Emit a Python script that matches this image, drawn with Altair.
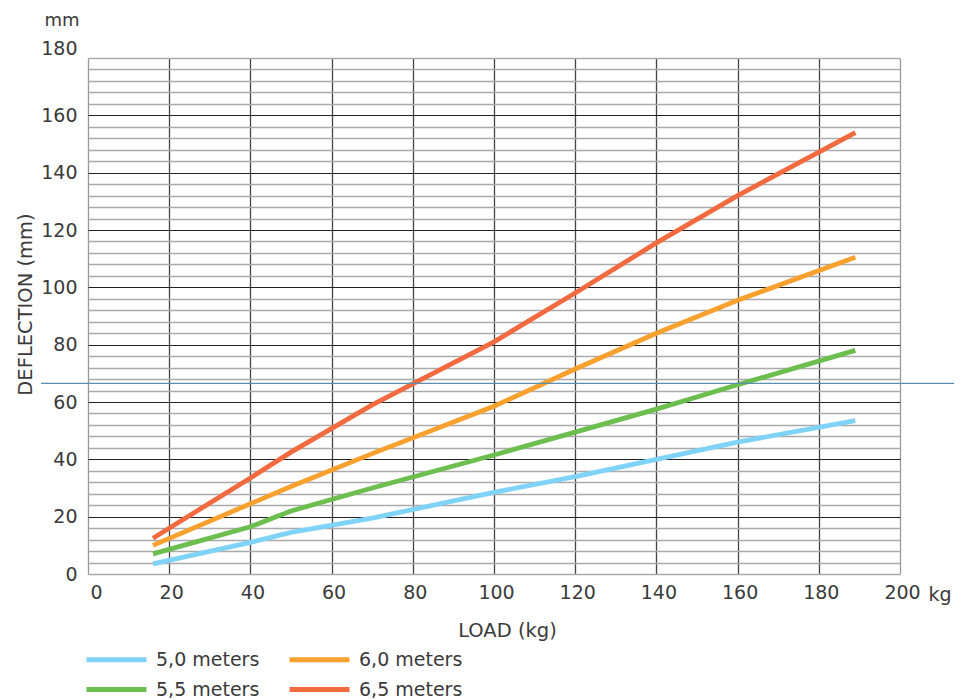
import altair as alt
import pandas as pd

# ---- data ----
loads = [16, 40, 50, 70, 100, 120, 140, 160, 189]
series_names = ["5,0 meters", "5,5 meters", "6,0 meters", "6,5 meters"]
defl_50 = [3.5, 11, 14.5, 19.5, 28.5, 34, 40, 46, 53.5]
defl_55 = [7, 16.5, 22, 30, 41.5, 49.5, 57.5, 66, 78]
defl_60 = [10, 24.5, 30.5, 42, 58.5, 71.5, 84, 95.5, 110.5]
defl_65 = [12.5, 33.5, 42.5, 59, 81, 98, 115.5, 132, 154]
series_colors = ["#7fd3f7", "#6cbf4f", "#f9a12e", "#f26a3f"]
reference_level = [66.5]

x_ticks = list(range(0, 201, 20))
y_ticks = list(range(0, 181, 4))

rows = []
for name, vals in zip(series_names, [defl_50, defl_55, defl_60, defl_65]):
    for l, v in zip(loads, vals):
        rows.append({"load": l, "deflection": v, "series": name})
df = pd.DataFrame(rows)

FONT = "DejaVu Sans"
TXT = "#3a3a3a"

x_enc = alt.X(
    "load:Q",
    scale=alt.Scale(domain=[0, 200], nice=False, zero=False),
    axis=alt.Axis(
        values=x_ticks, tickCount=200,
        title="LOAD (kg)",
        titleX=419, titleY=56, titleBaseline="middle",
        titleFont=FONT, titleFontSize=19.5, titleFontWeight="normal", titleColor=TXT,
        labelFont=FONT, labelFontSize=19, labelColor=TXT,
        labelFlush=False, labelOverlap=False, labelPadding=9, labelOffset=2,
        labelAlign={"condition": {"test": "datum.value === 0", "value": "left"}, "value": "center"},
        ticks=False, domain=False,
        grid=True,
        gridColor={"condition": {"test": "datum.value > 0 && datum.value < 200", "value": "#444444"}, "value": "#999999"},
        gridWidth=1.3,
    ),
)
y_enc = alt.Y(
    "deflection:Q",
    scale=alt.Scale(domain=[0, 180], nice=False),
    axis=alt.Axis(
        values=y_ticks, tickCount=200,
        title="DEFLECTION (mm)",
        titleX=-63, titleY=246, titleAngle=-90, titleBaseline="middle", titleAlign="center",
        titleFont=FONT, titleFontSize=19.5, titleFontWeight="normal", titleColor=TXT,
        labelFont=FONT, labelFontSize=19, labelColor=TXT,
        labelExpr="datum.value % 20 === 0 ? datum.label : ''",
        labelBaseline={"condition": {"test": "datum.value === 180", "value": "bottom"}, "value": "middle"},
        labelPadding=11, labelFlush=False, labelOverlap=False,
        ticks=False, domain=False,
        grid=True,
        gridColor={"condition": {"test": "datum.value % 20 === 0 && datum.value > 0 && datum.value < 180", "value": "#222222"}, "value": "#aaaaaa"},
        gridWidth={"condition": {"test": "datum.value % 20 === 0 && datum.value > 0 && datum.value < 180", "value": 1.2}, "value": 1.5},
    ),
)

lines = alt.Chart(df).mark_line(strokeWidth=4.8, strokeCap="butt").encode(
    x=x_enc,
    y=y_enc,
    color=alt.Color(
        "series:N",
        scale=alt.Scale(domain=series_names, range=series_colors),
        legend=alt.Legend(
            title=None,
            orient="none", legendX=-4, legendY=589,
            columns=2, columnPadding=19, rowPadding=7,
            symbolType="M-1,0H5", symbolSize=400, symbolStrokeWidth=5,
            labelFont=FONT, labelFontSize=19, labelColor=TXT, labelOffset=47,
        ),
    ),
    detail="series:N",
)

hline = alt.Chart(pd.DataFrame({"level": reference_level})).mark_rule(
    color="#5b8fb0", strokeWidth=1.3, clip=False
).encode(
    y=alt.Y("level:Q"),
    x=alt.value(-47),
    x2=alt.value(880),
)

mm_label = alt.Chart(pd.DataFrame({"t": ["mm"]})).mark_text(
    font=FONT, fontSize=18, color=TXT, align="center", baseline="middle"
).encode(x=alt.value(-26), y=alt.value(-37), text="t:N")

kg_label = alt.Chart(pd.DataFrame({"t": ["kg"]})).mark_text(
    font=FONT, fontSize=19, color=TXT, align="center", baseline="middle"
).encode(x=alt.value(852), y=alt.value(537), text="t:N")

chart = alt.layer(lines, hline, mm_label, kg_label).properties(
    width=812, height=516,
    autosize=alt.AutoSizeParams(type="none"),
    padding={"left": 80, "top": 50, "right": 54, "bottom": 126},
).configure_view(stroke="#999999", strokeWidth=1.5).configure(background="white")

chart.save("out.html", embed_options={"renderer": "svg", "actions": False})
